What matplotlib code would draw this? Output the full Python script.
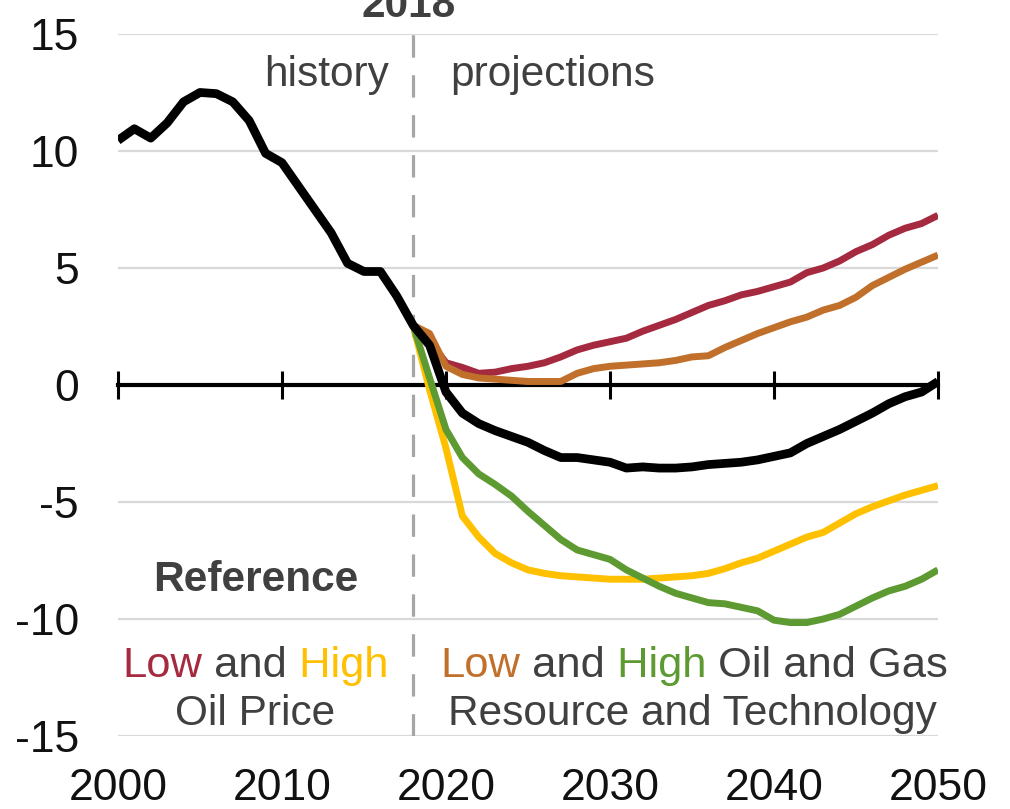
import matplotlib.pyplot as plt
import numpy as np

# Dados (variacao, 2000-2050)
years = np.arange(2000, 2051)
proj_years = np.arange(2018, 2051)

reference = [10.45, 10.95, 10.55, 11.2, 12.1, 12.5, 12.45, 12.1, 11.3, 9.9,
             9.5, 8.5, 7.5, 6.5, 5.2, 4.85, 4.85, 3.8, 2.55, 1.7,
             -0.3, -1.2, -1.65, -1.95, -2.2, -2.45, -2.8, -3.1, -3.1, -3.2,
             -3.3, -3.55, -3.5, -3.55, -3.55, -3.5, -3.4, -3.35, -3.3, -3.2,
             -3.05, -2.9, -2.5, -2.2, -1.9, -1.55, -1.2, -0.8, -0.5, -0.3,
             0.15]

low_oil_price = [2.55, 1.9, 0.95, 0.75, 0.5, 0.55, 0.7, 0.8, 0.95, 1.2,
                 1.5, 1.7, 1.85, 2.0, 2.3, 2.55, 2.8, 3.1, 3.4, 3.6,
                 3.85, 4.0, 4.2, 4.4, 4.8, 5.0, 5.3, 5.7, 6.0, 6.4,
                 6.7, 6.9, 7.25]

high_oil_price = [2.55, -0.2, -2.7, -5.6, -6.5, -7.2, -7.6, -7.9, -8.05, -8.15,
                  -8.2, -8.25, -8.3, -8.3, -8.3, -8.25, -8.2, -8.15, -8.05, -7.85,
                  -7.6, -7.4, -7.1, -6.8, -6.5, -6.3, -5.9, -5.5, -5.2, -4.95,
                  -4.7, -4.5, -4.3]

low_resource = [2.55, 2.2, 0.8, 0.45, 0.3, 0.25, 0.2, 0.15, 0.15, 0.15,
                0.5, 0.7, 0.8, 0.85, 0.9, 0.95, 1.05, 1.2, 1.25, 1.6,
                1.9, 2.2, 2.45, 2.7, 2.9, 3.2, 3.4, 3.75, 4.25, 4.6,
                4.95, 5.25, 5.55]

high_resource = [2.55, 0.3, -1.9, -3.1, -3.8, -4.25, -4.75, -5.4, -6.0, -6.6,
                 -7.05, -7.25, -7.45, -7.9, -8.25, -8.6, -8.9, -9.1, -9.3, -9.35,
                 -9.5, -9.65, -10.05, -10.15, -10.15, -10.0, -9.8, -9.45, -9.1, -8.8,
                 -8.6, -8.3, -7.9]

x_ticks = [2000, 2010, 2020, 2030, 2040, 2050]
y_ticks = [-15, -10, -5, 0, 5, 10, 15]

RED = "#A52A3F"
YELLOW = "#FFC000"
ORANGE = "#C0702B"
GREEN = "#5E9A32"
TXT = "#404040"
FS = 30.5   # texto das anotacoes
FS2 = 31.3  # linhas coloridas

plt.rcParams["font.family"] = ["Liberation Sans", "DejaVu Sans"]
plt.rcParams["font.size"] = 32
plt.rcParams["axes.unicode_minus"] = False

fig = plt.figure(figsize=(10.1, 8.09), dpi=100)
ax = fig.add_axes([0.1168, 0.0902, 0.8119, 0.8678])

ax.set_xlim(2000, 2050)
ax.set_ylim(-15, 15)

# grade horizontal
for y in y_ticks:
    if y != 0:
        ax.axhline(y, color="#D9D9D9", lw=1.6, zorder=0)

ax.axvline(2018, color="#A6A6A6", lw=2.3, dashes=(7, 5.5), zorder=1)

ax.plot(proj_years, low_oil_price, color=RED, lw=5, solid_capstyle="butt", zorder=3)
ax.plot(proj_years, high_oil_price, color=YELLOW, lw=5, solid_capstyle="butt", zorder=3)
ax.plot(proj_years, low_resource, color=ORANGE, lw=5, solid_capstyle="butt", zorder=3)
ax.plot(proj_years, high_resource, color=GREEN, lw=5, solid_capstyle="butt", zorder=3)
ax.plot(years, reference, color="black", lw=6.3, solid_capstyle="butt", zorder=4)

# eixo x no zero
for s in ["top", "right", "left"]:
    ax.spines[s].set_visible(False)
ax.spines["bottom"].set_position(("data", 0))
ax.spines["bottom"].set_linewidth(3)
ax.spines["bottom"].set_zorder(2)
ax.set_xticks(x_ticks)
ax.tick_params(axis="x", direction="inout", length=20, width=2.2, labelbottom=False)
ax.set_yticks(y_ticks)
ax.tick_params(axis="y", length=0, pad=28, labelcolor="#111111")

secax = ax.secondary_xaxis("bottom")
secax.set_xticks(x_ticks)
secax.tick_params(length=0, pad=23, labelcolor="#111111")
secax.spines["bottom"].set_visible(False)

# textos
ax.text(2017.7, 15.73, "2018", ha="center", va="baseline", fontweight="bold",
        color=TXT, fontsize=FS)
ax.text(2016.5, 12.78, "history", ha="right", va="baseline", color=TXT, fontsize=FS)
ax.text(2020.25, 12.78, "projections", ha="left", va="baseline", color=TXT, fontsize=FS)
ax.text(2008.4, -8.8, "Reference", ha="center", va="baseline", fontweight="bold",
        color=TXT, fontsize=FS)
ax.text(2008.35, -14.55, "Oil Price", ha="center", va="baseline", color=TXT, fontsize=FS)
ax.text(2035.0, -14.55, "Resource and Technology", ha="center", va="baseline",
        color=TXT, fontsize=FS)


def colored_line(x, y, parts):
    t = ax.text(x, y, parts[0][0], ha="left", va="baseline", color=parts[0][1], fontsize=FS2)
    for s, c in parts[1:]:
        t = ax.annotate(s, xy=(1, 0), xycoords=t, ha="left", va="bottom", color=c,
                        fontsize=FS2)


colored_line(2000.25, -12.48, [("Low", RED), (" and", TXT), (" High", YELLOW)])
colored_line(2019.65, -12.48, [("Low", ORANGE), (" and", TXT), (" High", GREEN),
                               (" Oil and Gas", TXT)])

fig.savefig("out.png", dpi=100)
